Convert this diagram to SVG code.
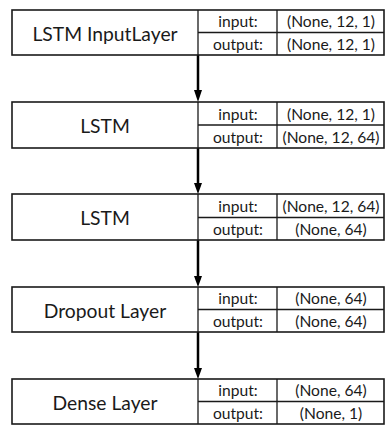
<svg xmlns="http://www.w3.org/2000/svg" width="385" height="425" viewBox="0 0 385 425">
<style>
.box{fill:#fff;stroke:#1a1a1a;stroke-width:1.6}
.ln{stroke:#1a1a1a;stroke-width:1.3}
.t{font-family:Lato,"Open Sans",sans-serif;fill:#1a1a1a;text-anchor:middle;dominant-baseline:central}
.big{font-size:19.3px}
.sm{font-size:15.6px}
.edge{stroke:#000;stroke-width:2.5;fill:none}
</style>
<rect width="385" height="425" fill="#fff"/>
<g id="connectors">
<line class="edge" x1="198" y1="55" x2="198" y2="90"/>
<path d="M194,90 L202,90 L198,102 Z"/>
<line class="edge" x1="198" y1="148" x2="198" y2="183"/>
<path d="M194,183 L202,183 L198,194 Z"/>
<line class="edge" x1="198" y1="240" x2="198" y2="276"/>
<path d="M194,276 L202,276 L198,287 Z"/>
<line class="edge" x1="198" y1="332" x2="198" y2="368"/>
<path d="M194,368 L202,368 L198,379 Z"/>
</g>
<g id="node1">
<rect class="box" x="12" y="10" width="372" height="45"/>
<line class="ln" x1="198" y1="10" x2="198" y2="55"/>
<line class="ln" x1="277" y1="10" x2="277" y2="55"/>
<line class="ln" x1="198" y1="32.5" x2="384" y2="32.5"/>
<text class="t big" x="105" y="33">LSTM InputLayer</text>
<text class="t sm" x="238" y="21">input:</text>
<text class="t sm" x="238" y="44">output:</text>
<text class="t sm" x="331" y="21">(None, 12, 1)</text>
<text class="t sm" x="331" y="44">(None, 12, 1)</text>
</g>
<g id="node2">
<rect class="box" x="12" y="102" width="372" height="46"/>
<line class="ln" x1="198" y1="102" x2="198" y2="148"/>
<line class="ln" x1="277" y1="102" x2="277" y2="148"/>
<line class="ln" x1="198" y1="125" x2="384" y2="125"/>
<text class="t big" x="105" y="125">LSTM</text>
<text class="t sm" x="238" y="113.5">input:</text>
<text class="t sm" x="238" y="136.5">output:</text>
<text class="t sm" x="331" y="113.5">(None, 12, 1)</text>
<text class="t sm" x="331" y="136.5">(None, 12, 64)</text>
</g>
<g id="node3">
<rect class="box" x="12" y="194" width="372" height="46"/>
<line class="ln" x1="198" y1="194" x2="198" y2="240"/>
<line class="ln" x1="277" y1="194" x2="277" y2="240"/>
<line class="ln" x1="198" y1="217.5" x2="384" y2="217.5"/>
<text class="t big" x="105" y="217">LSTM</text>
<text class="t sm" x="238" y="205.5">input:</text>
<text class="t sm" x="238" y="228.5">output:</text>
<text class="t sm" x="331" y="205.5">(None, 12, 64)</text>
<text class="t sm" x="331" y="228.5">(None, 64)</text>
</g>
<g id="node4">
<rect class="box" x="12" y="287" width="372" height="45"/>
<line class="ln" x1="198" y1="287" x2="198" y2="332"/>
<line class="ln" x1="277" y1="287" x2="277" y2="332"/>
<line class="ln" x1="198" y1="309.5" x2="384" y2="309.5"/>
<text class="t big" x="105" y="310">Dropout Layer</text>
<text class="t sm" x="238" y="298">input:</text>
<text class="t sm" x="238" y="321">output:</text>
<text class="t sm" x="331" y="298">(None, 64)</text>
<text class="t sm" x="331" y="321">(None, 64)</text>
</g>
<g id="node5">
<rect class="box" x="12" y="379" width="372" height="45"/>
<line class="ln" x1="198" y1="379" x2="198" y2="424"/>
<line class="ln" x1="277" y1="379" x2="277" y2="424"/>
<line class="ln" x1="198" y1="401.5" x2="384" y2="401.5"/>
<text class="t big" x="105" y="402">Dense Layer</text>
<text class="t sm" x="238" y="390">input:</text>
<text class="t sm" x="238" y="413">output:</text>
<text class="t sm" x="331" y="390">(None, 64)</text>
<text class="t sm" x="331" y="413">(None, 1)</text>
</g>
</svg>
